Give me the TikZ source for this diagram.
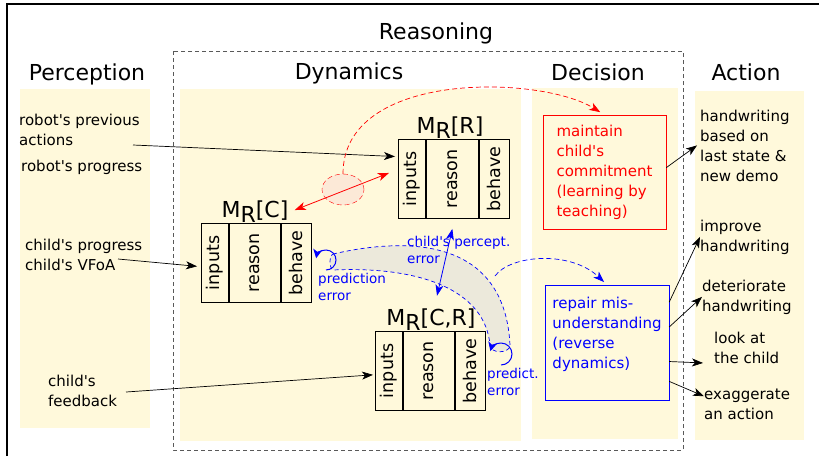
\documentclass[tikz,border=0pt]{standalone}
\usepackage{fontspec}
\setmainfont{DejaVu Sans}[Ligatures=TeXOff]
\usetikzlibrary{arrows.meta,shapes.geometric}

\definecolor{panelyellow}{RGB}{255,249,219}
\definecolor{bandgray}{RGB}{236,233,219}
\definecolor{blobfill}{RGB}{252,233,215}

\newcommand{\mlab}[1]{M\raisebox{-5pt}{R}[#1]}

\tikzset{
	head/.style={font=\fontsize{22}{26}\selectfont, anchor=base},
	txt/.style={font=\fontsize{15}{20}\selectfont, align=left, inner sep=0, anchor=base west},
	note/.style={font=\fontsize{13.5}{16.5}\selectfont, text=blue, align=left, inner sep=0, anchor=base west},
	part/.style={draw, line width=0.9pt, minimum height=79, inner sep=0, font=\fontsize{17.5}{20}\selectfont},
	mlabel/.style={font=\fontsize{22}{26}\selectfont, anchor=base},
	arr/.style={-{Stealth[length=11pt,width=8pt,inset=3pt]}, line width=0.7pt},
	dasharr/.style={dash pattern=on 5pt off 3pt, line width=0.7pt, -{Stealth[length=11pt,width=8pt,inset=3pt]}},
	selfarr/.style={blue, line width=1pt, -{Stealth[length=9pt,width=9pt,inset=2.5pt]}}
}

\begin{document}
\begin{tikzpicture}[x=1pt,y=-1pt]
	\useasboundingbox (0,0) rectangle (819,456);
	% Draw frame.
	\draw[line width=1.2pt] (7,456) -- (7,4) -- (819,4);

	% Draw panels.
	\fill[panelyellow] (20,89) rectangle (150,428);
	\fill[panelyellow] (180,89) rectangle (521,441);
	\fill[panelyellow] (532,88) rectangle (678,439);
	\fill[panelyellow] (695,91) rectangle (804,440);
	\draw[gray!70!black, line width=0.8pt, dash pattern=on 4pt off 3pt] (173,51) rectangle (683,450);

	% Headers.
	\node[head] (reasoning) at (436,39) {Reasoning};
	\node[head] (perception) at (87,80) {Perception};
	\node[head] (dynamics) at (349,79) {Dynamics};
	\node[head] (decision) at (598,80) {Decision};
	\node[head] (action) at (746,80) {Action};

	% Perception (base = last line).
	\node[txt] (prev) at (19,145) {robot's previous\\actions};
	\node[txt] (rprog) at (21,171) {robot's progress};
	\node[txt] (cprog) at (25,270) {child's progress\\child's VFoA};
	\node[txt] (cfeed) at (48,406) {child's\\feedback};

	% Draw model M_R[R].
	\node[part, minimum width=27, anchor=north west] (mr-in) at (398,139) {\rotatebox{90}{inputs}};
	\node[part, minimum width=52, anchor=west] (mr-re) at (mr-in.east) {\rotatebox{90}{reason}};
	\node[part, minimum width=30, anchor=west] (mr-be) at (mr-re.east) {\rotatebox{90}{behave}};
	\node[mlabel] (mr) at (450,133) {\mlab{R}};

	% Draw model M_R[C].
	\node[part, minimum width=27, anchor=north west] (mc-in) at (201,223) {\rotatebox{90}{inputs}};
	\node[part, minimum width=51, anchor=west] (mc-re) at (mc-in.east) {\rotatebox{90}{reason}};
	\node[part, minimum width=30, anchor=west] (mc-be) at (mc-re.east) {\rotatebox{90}{behave}};
	\node[mlabel] (mc) at (255,217) {\mlab{C}};

	% Draw model M_R[C,R].
	\node[part, minimum width=27, anchor=north west] (mcr-in) at (375,331) {\rotatebox{90}{inputs}};
	\node[part, minimum width=51, anchor=west] (mcr-re) at (mcr-in.east) {\rotatebox{90}{reason}};
	\node[part, minimum width=30, anchor=west] (mcr-be) at (mcr-re.east) {\rotatebox{90}{behave}};
	\node[mlabel] (mcr) at (431,325) {\mlab{C,R}};

	% Decision.
	\node[draw=red, text=red, font=\fontsize{15}{20}\selectfont, align=left,
		minimum width=123, minimum height=114] (dr) at (604.5,172)
		{maintain\\child's\\commitment\\(learning by\\teaching)};
	\node[draw=blue, text=blue, font=\fontsize{15}{20}\selectfont, align=left,
		minimum width=124, minimum height=115] (db) at (607,342.5)
		{repair mis-\\understanding\\(reverse\\dynamics)\\ \mbox{}};

	% Action (base = last line).
	\node[txt] (a1) at (700,181) {handwriting\\based on\\last state \&\\new demo};
	\node[txt] (a2) at (700,251) {improve\\handwriting};
	\node[txt] (a3) at (702,311) {deteriorate\\handwriting};
	\node[txt] (a4) at (714,363) {look at\\the child};
	\node[txt] (a5) at (704,419) {exaggerate\\an action};

	% Perception to models.
	\coordinate (p1) at (133,145);
	\coordinate (p2) at (118,259);
	\coordinate (p3) at (126,392);
	\draw[arr, shorten >=3pt] (p1) -- (mr-in.122);
	\draw[arr, shorten >=4pt] (p2) -- (mc-in.195);
	\draw[arr, shorten >=2pt] (p3) -- (mcr-in.195);

	% Red link between M_R[C] and M_R[R].
	\node[ellipse, draw=red, dash pattern=on 5pt off 3pt, fill=blobfill, minimum width=42,
		minimum height=31, inner sep=0] (blob) at (343,189.5) {};
	\draw[red, dasharr, shorten >=5pt] (blob.north) .. controls (343,70) and (540,75) .. (dr.north);
	\draw[red, line width=0.8pt, {Stealth[length=11pt,width=8pt,inset=3pt]}-{Stealth[length=11pt,width=8pt,inset=3pt]},
		shorten <=3pt] (mc.east) -- ([xshift=-9pt,yshift=6pt]mr-in.west);

	% Blue prediction errors.
	\draw[blue, fill=bandgray, line width=0.7pt, dash pattern=on 4pt off 3pt]
		(333,254) .. controls (420,234) and (505,245) .. (510,345)
		.. controls (510,354) and (490,354) .. (490,345)
		.. controls (485,290) and (420,266) .. (333,270)
		.. controls (329,268) and (329,256) .. cycle;
	\draw[selfarr] (326,270) arc[start angle=90, end angle=-170, radius=10];
	\draw[selfarr] (501,365) arc[start angle=90, end angle=-165, radius=11];
	\draw[blue, line width=0.8pt, {Stealth[length=11pt,width=8pt,inset=3pt]}-{Stealth[length=11pt,width=8pt,inset=3pt]}]
		([yshift=-10pt]mr-re.south) -- ([xshift=6pt,yshift=9pt]mcr.north);
	\coordinate (bs) at (495,276);
	\draw[blue, dasharr, shorten >=4pt] (bs) .. controls (510,255) and (570,250) .. (db.north);
	\node[note] (pe1) at (318,300) {prediction\\error};
	\node[note] (pe2) at (407,263) {child's percept.\\error};
	\node[note] (pe3) at (487,395) {predict.\\error};

	% Decision to action.
	\draw[arr] (dr.4) -- ([xshift=-3pt]a1.west);
	\draw[arr] (db.33) -- (a2.west);
	\draw[arr] (db.14) -- (a3.west);
	\draw[arr, shorten >=11pt] (db.-17) -- (a4.south west);
	\draw[arr] (db.-32) -- (a5.170);
\end{tikzpicture}
\end{document}
